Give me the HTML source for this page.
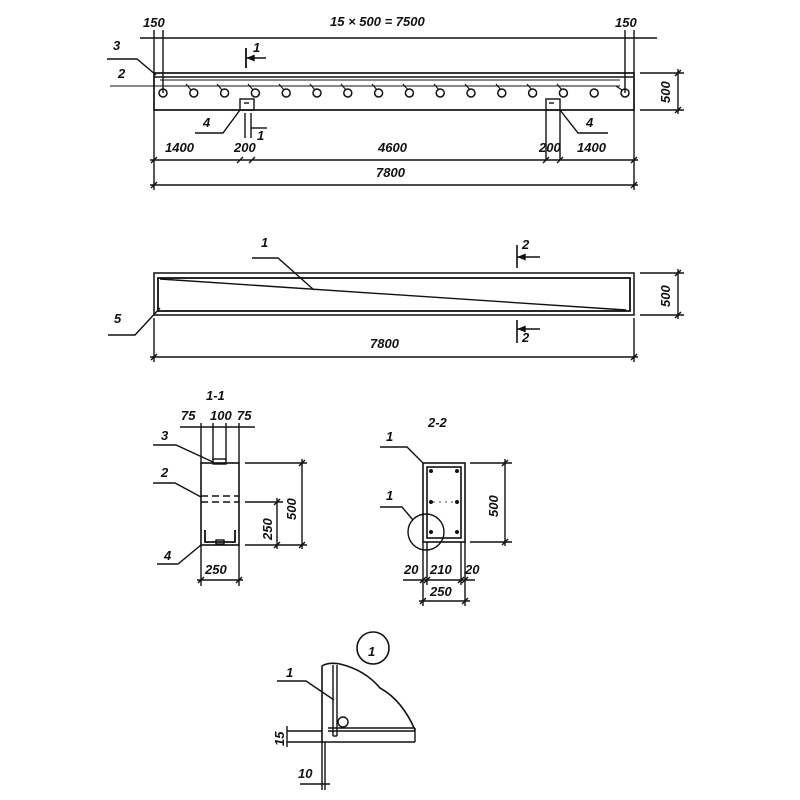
<!DOCTYPE html>
<html><head><style>
html,body{margin:0;padding:0;background:#fff;}
svg{display:block}
text{font-family:"Liberation Sans",sans-serif;font-style:italic;font-weight:bold;font-size:13px;fill:#111;}
</style></head><body>
<svg width="800" height="800" viewBox="0 0 800 800" stroke="#111" fill="none" stroke-width="1.4">
<!-- TOP BEAM -->
<g>
<text x="330" y="26" stroke="none" font-size="15">15 × 500 = 7500</text>
<text x="143" y="27" stroke="none">150</text>
<text x="615" y="27" stroke="none">150</text>
<line x1="140" y1="38" x2="657" y2="38"/>
<line x1="154" y1="30" x2="154" y2="73"/>
<line x1="163" y1="30" x2="163" y2="93"/>
<line x1="625" y1="30" x2="625" y2="93"/>
<line x1="634" y1="30" x2="634" y2="73"/>
<rect x="154" y="73" width="480" height="37" stroke-width="1.7"/>
<line x1="154" y1="77" x2="634" y2="77"/>
<line x1="160" y1="80" x2="620" y2="80" stroke-width="0.9"/>
<text x="113" y="50" stroke="none">3</text>
<polyline points="107,59 137,59 156,75"/>
<text x="118" y="78" stroke="none">2</text>
<line x1="110" y1="86" x2="620" y2="86" stroke-width="0.9"/>
<g stroke-width="1.5">
<circle cx="163" cy="93" r="4"/><circle cx="193.8" cy="93" r="4"/><circle cx="224.6" cy="93" r="4"/><circle cx="255.4" cy="93" r="4"/>
<circle cx="286.2" cy="93" r="4"/><circle cx="317" cy="93" r="4"/><circle cx="347.8" cy="93" r="4"/><circle cx="378.6" cy="93" r="4"/>
<circle cx="409.4" cy="93" r="4"/><circle cx="440.2" cy="93" r="4"/><circle cx="471" cy="93" r="4"/><circle cx="501.8" cy="93" r="4"/>
<circle cx="532.6" cy="93" r="4"/><circle cx="563.4" cy="93" r="4"/><circle cx="594.2" cy="93" r="4"/><circle cx="625" cy="93" r="4"/>
</g>
<g stroke-width="1.1">
<line x1="186" y1="84" x2="191" y2="90"/><line x1="217" y1="84" x2="222" y2="90"/><line x1="248" y1="84" x2="253" y2="90"/>
<line x1="279" y1="84" x2="284" y2="90"/><line x1="310" y1="84" x2="315" y2="90"/><line x1="341" y1="84" x2="346" y2="90"/>
<line x1="372" y1="84" x2="377" y2="90"/><line x1="403" y1="84" x2="408" y2="90"/><line x1="434" y1="84" x2="439" y2="90"/>
<line x1="465" y1="84" x2="470" y2="90"/><line x1="496" y1="84" x2="501" y2="90"/><line x1="527" y1="84" x2="532" y2="90"/>
<line x1="557" y1="84" x2="562" y2="90"/><line x1="616" y1="86" x2="622" y2="90"/>
</g>
<line x1="246" y1="48" x2="246" y2="68" stroke-width="1.8"/>
<line x1="246" y1="58" x2="266" y2="58"/><polygon points="248,58 254,55.5 254,60.5" fill="#111"/>
<text x="253" y="52" stroke="none">1</text>
<line x1="245" y1="113" x2="245" y2="138" stroke-width="1.4"/>
<line x1="251" y1="113" x2="251" y2="138" stroke-width="1.4"/>
<line x1="251" y1="128" x2="267" y2="128"/>
<text x="257" y="140" stroke="none">1</text>
<rect x="240" y="99" width="14" height="11"/>
<line x1="244" y1="103" x2="249" y2="103"/>
<rect x="546" y="99" width="14" height="11"/>
<line x1="549" y1="103" x2="554" y2="103"/>
<text x="203" y="127" stroke="none">4</text>
<polyline points="195,133 223,133 240,110"/>
<text x="586" y="127" stroke="none">4</text>
<polyline points="608,133 578,133 560,110"/>
<line x1="560" y1="110" x2="560" y2="160"/><line x1="546" y1="110" x2="546" y2="160"/>
<line x1="154" y1="110" x2="154" y2="190"/>
<line x1="634" y1="110" x2="634" y2="190"/>
<line x1="150" y1="160" x2="638" y2="160"/>
<line x1="150" y1="185" x2="638" y2="185"/>
<g stroke-width="1.4">
<line x1="151" y1="163" x2="157" y2="157"/><line x1="237" y1="163" x2="243" y2="157"/><line x1="249" y1="163" x2="255" y2="157"/>
<line x1="543" y1="163" x2="549" y2="157"/><line x1="557" y1="163" x2="563" y2="157"/><line x1="631" y1="163" x2="637" y2="157"/>
<line x1="151" y1="188" x2="157" y2="182"/><line x1="631" y1="188" x2="637" y2="182"/>
</g>
<text x="165" y="152" stroke="none" font-size="14">1400</text>
<text x="234" y="152" stroke="none" font-size="11">200</text>
<text x="378" y="152" stroke="none" font-size="14">4600</text>
<text x="539" y="152" stroke="none" font-size="11">200</text>
<text x="577" y="152" stroke="none" font-size="14">1400</text>
<text x="376" y="177" stroke="none" font-size="14">7800</text>
<line x1="640" y1="73" x2="684" y2="73"/><line x1="640" y1="110" x2="684" y2="110"/>
<line x1="678" y1="69" x2="678" y2="114"/>
<line x1="675" y1="76" x2="681" y2="70"/><line x1="675" y1="113" x2="681" y2="107"/>
<text transform="translate(670,103) rotate(-90)" stroke="none" font-size="12">500</text>
</g>
<!-- MIDDLE BEAM -->
<g>
<rect x="154" y="273" width="480" height="42" stroke-width="1.5"/>
<rect x="158" y="278" width="472" height="33" stroke-width="1.8"/>
<line x1="160" y1="279" x2="626" y2="310" stroke-width="1.4"/>
<text x="261" y="247" stroke="none">1</text>
<polyline points="252,258 278,258 314,290"/>
<text x="114" y="323" stroke="none">5</text>
<polyline points="108,335 135,335 160,308"/>
<line x1="517" y1="245" x2="517" y2="268" stroke-width="1.6"/>
<line x1="517" y1="257" x2="540" y2="257"/><polygon points="519,257 525,254.5 525,259.5" fill="#111"/>
<text x="522" y="249" stroke="none">2</text>
<line x1="517" y1="320" x2="517" y2="343" stroke-width="1.6"/>
<line x1="517" y1="329" x2="540" y2="329"/><polygon points="519,329 525,326.5 525,331.5" fill="#111"/>
<text x="522" y="342" stroke="none">2</text>
<line x1="154" y1="318" x2="154" y2="362"/><line x1="634" y1="318" x2="634" y2="362"/>
<line x1="150" y1="357" x2="638" y2="357"/>
<line x1="151" y1="360" x2="157" y2="354"/><line x1="631" y1="360" x2="637" y2="354"/>
<text x="370" y="348" stroke="none" font-size="14">7800</text>
<line x1="640" y1="273" x2="684" y2="273"/><line x1="640" y1="315" x2="684" y2="315"/>
<line x1="678" y1="269" x2="678" y2="319"/>
<line x1="675" y1="276" x2="681" y2="270"/><line x1="675" y1="318" x2="681" y2="312"/>
<text transform="translate(670,307) rotate(-90)" stroke="none" font-size="12">500</text>
</g>
<!-- SECTION 1-1 -->
<g>
<text x="206" y="400" stroke="none" font-size="14">1-1</text>
<text x="181" y="420" stroke="none" font-size="12">75</text>
<text x="210" y="420" stroke="none" font-size="12">100</text>
<text x="237" y="420" stroke="none" font-size="12">75</text>
<line x1="180" y1="427" x2="255" y2="427"/>
<line x1="201" y1="423" x2="201" y2="463"/><line x1="239" y1="423" x2="239" y2="463"/>
<line x1="213" y1="423" x2="213" y2="460"/><line x1="226" y1="423" x2="226" y2="460"/>
<rect x="201" y="463" width="38" height="82" stroke-width="1.6"/>
<rect x="213" y="459" width="13" height="5"/>
<line x1="201" y1="496" x2="239" y2="496" stroke-dasharray="7,4"/>
<line x1="201" y1="502" x2="239" y2="502" stroke-dasharray="7,4"/>
<polyline points="205,530 205,542 235,542 235,530" stroke-width="1.8"/>
<rect x="216" y="540" width="8" height="4"/>
<text x="161" y="440" stroke="none">3</text>
<polyline points="153,445 176,445 213,462"/>
<text x="161" y="477" stroke="none">2</text>
<polyline points="153,483 175,483 201,497"/>
<text x="164" y="560" stroke="none">4</text>
<polyline points="157,564 178,564 201,545"/>
<line x1="245" y1="463" x2="307" y2="463"/><line x1="245" y1="545" x2="307" y2="545"/>
<line x1="245" y1="502" x2="283" y2="502"/>
<line x1="302" y1="459" x2="302" y2="549"/>
<line x1="277" y1="498" x2="277" y2="549"/>
<line x1="299" y1="466" x2="305" y2="460"/><line x1="299" y1="548" x2="305" y2="542"/>
<line x1="274" y1="505" x2="280" y2="499"/><line x1="274" y1="548" x2="280" y2="542"/>
<text transform="translate(296,520) rotate(-90)" stroke="none" font-size="13">500</text>
<text transform="translate(272,540) rotate(-90)" stroke="none" font-size="12">250</text>
<line x1="201" y1="545" x2="201" y2="586"/><line x1="239" y1="545" x2="239" y2="586"/>
<line x1="197" y1="580" x2="243" y2="580"/>
<line x1="198" y1="583" x2="204" y2="577"/><line x1="236" y1="583" x2="242" y2="577"/>
<text x="205" y="574" stroke="none" font-size="13">250</text>
</g>
<!-- SECTION 2-2 -->
<g>
<text x="428" y="427" stroke="none" font-size="14">2-2</text>
<rect x="423" y="463" width="42" height="79" stroke-width="1.6"/>
<rect x="427" y="467" width="34" height="71" stroke-width="1.6"/>
<g fill="#111" stroke="none">
<circle cx="431" cy="471" r="2"/><circle cx="457" cy="471" r="2"/>
<circle cx="431" cy="502" r="2"/><circle cx="457" cy="502" r="2"/>
<circle cx="431" cy="532" r="2"/><circle cx="457" cy="532" r="2"/>
</g>
<line x1="433" y1="502" x2="455" y2="502" stroke-dasharray="2,4" stroke-width="0.8"/>
<circle cx="426" cy="532" r="18"/>
<text x="386" y="441" stroke="none">1</text>
<polyline points="380,447 407,447 423,463"/>
<text x="386" y="500" stroke="none">1</text>
<polyline points="380,507 402,507 413,520"/>
<line x1="470" y1="463" x2="512" y2="463"/><line x1="470" y1="542" x2="512" y2="542"/>
<line x1="505" y1="459" x2="505" y2="546"/>
<line x1="502" y1="466" x2="508" y2="460"/><line x1="502" y1="545" x2="508" y2="539"/>
<text transform="translate(498,517) rotate(-90)" stroke="none" font-size="13">500</text>
<line x1="423" y1="542" x2="423" y2="606"/><line x1="427" y1="542" x2="427" y2="585"/>
<line x1="461" y1="542" x2="461" y2="585"/><line x1="465" y1="542" x2="465" y2="606"/>
<line x1="403" y1="580" x2="475" y2="580"/>
<line x1="420" y1="583" x2="426" y2="577"/><line x1="424" y1="583" x2="430" y2="577"/>
<line x1="458" y1="583" x2="464" y2="577"/><line x1="462" y1="583" x2="468" y2="577"/>
<text x="404" y="574" stroke="none" font-size="11">20</text>
<text x="430" y="574" stroke="none" font-size="12">210</text>
<text x="465" y="574" stroke="none" font-size="11">20</text>
<line x1="419" y1="601" x2="470" y2="601"/>
<line x1="420" y1="604" x2="426" y2="598"/><line x1="462" y1="604" x2="468" y2="598"/>
<text x="430" y="596" stroke="none" font-size="13">250</text>
</g>
<!-- DETAIL 1 -->
<g>
<circle cx="373" cy="648" r="16" stroke-width="1.6"/>
<text x="368" y="656" stroke="none" font-size="17">1</text>
<line x1="322" y1="666" x2="322" y2="742" stroke-width="1.6"/>
<line x1="333" y1="665" x2="333" y2="736"/>
<line x1="337" y1="665" x2="337" y2="736"/>
<line x1="333" y1="736" x2="337" y2="736"/>
<path d="M322,666 Q328,662 340,664 Q365,670 380,688 Q402,700 415,730" stroke-width="1.6"/>
<circle cx="343" cy="722" r="5"/>
<line x1="328" y1="728" x2="415" y2="728"/>
<line x1="328" y1="731" x2="415" y2="731"/>
<line x1="322" y1="742" x2="415" y2="742" stroke-width="1.6"/>
<line x1="415" y1="728" x2="415" y2="742"/>
<text x="286" y="677" stroke="none">1</text>
<polyline points="277,681 306,681 334,700"/>
<line x1="287" y1="731" x2="322" y2="731"/><line x1="287" y1="742" x2="322" y2="742"/>
<line x1="287" y1="726" x2="287" y2="747"/>
<text transform="translate(284,746) rotate(-90)" stroke="none" font-size="11">15</text>
<line x1="322" y1="742" x2="322" y2="790"/><line x1="325" y1="742" x2="325" y2="790"/>
<line x1="300" y1="784" x2="330" y2="784"/>
<text x="298" y="778" stroke="none" font-size="12">10</text>
</g>
</svg>
</body></html>
